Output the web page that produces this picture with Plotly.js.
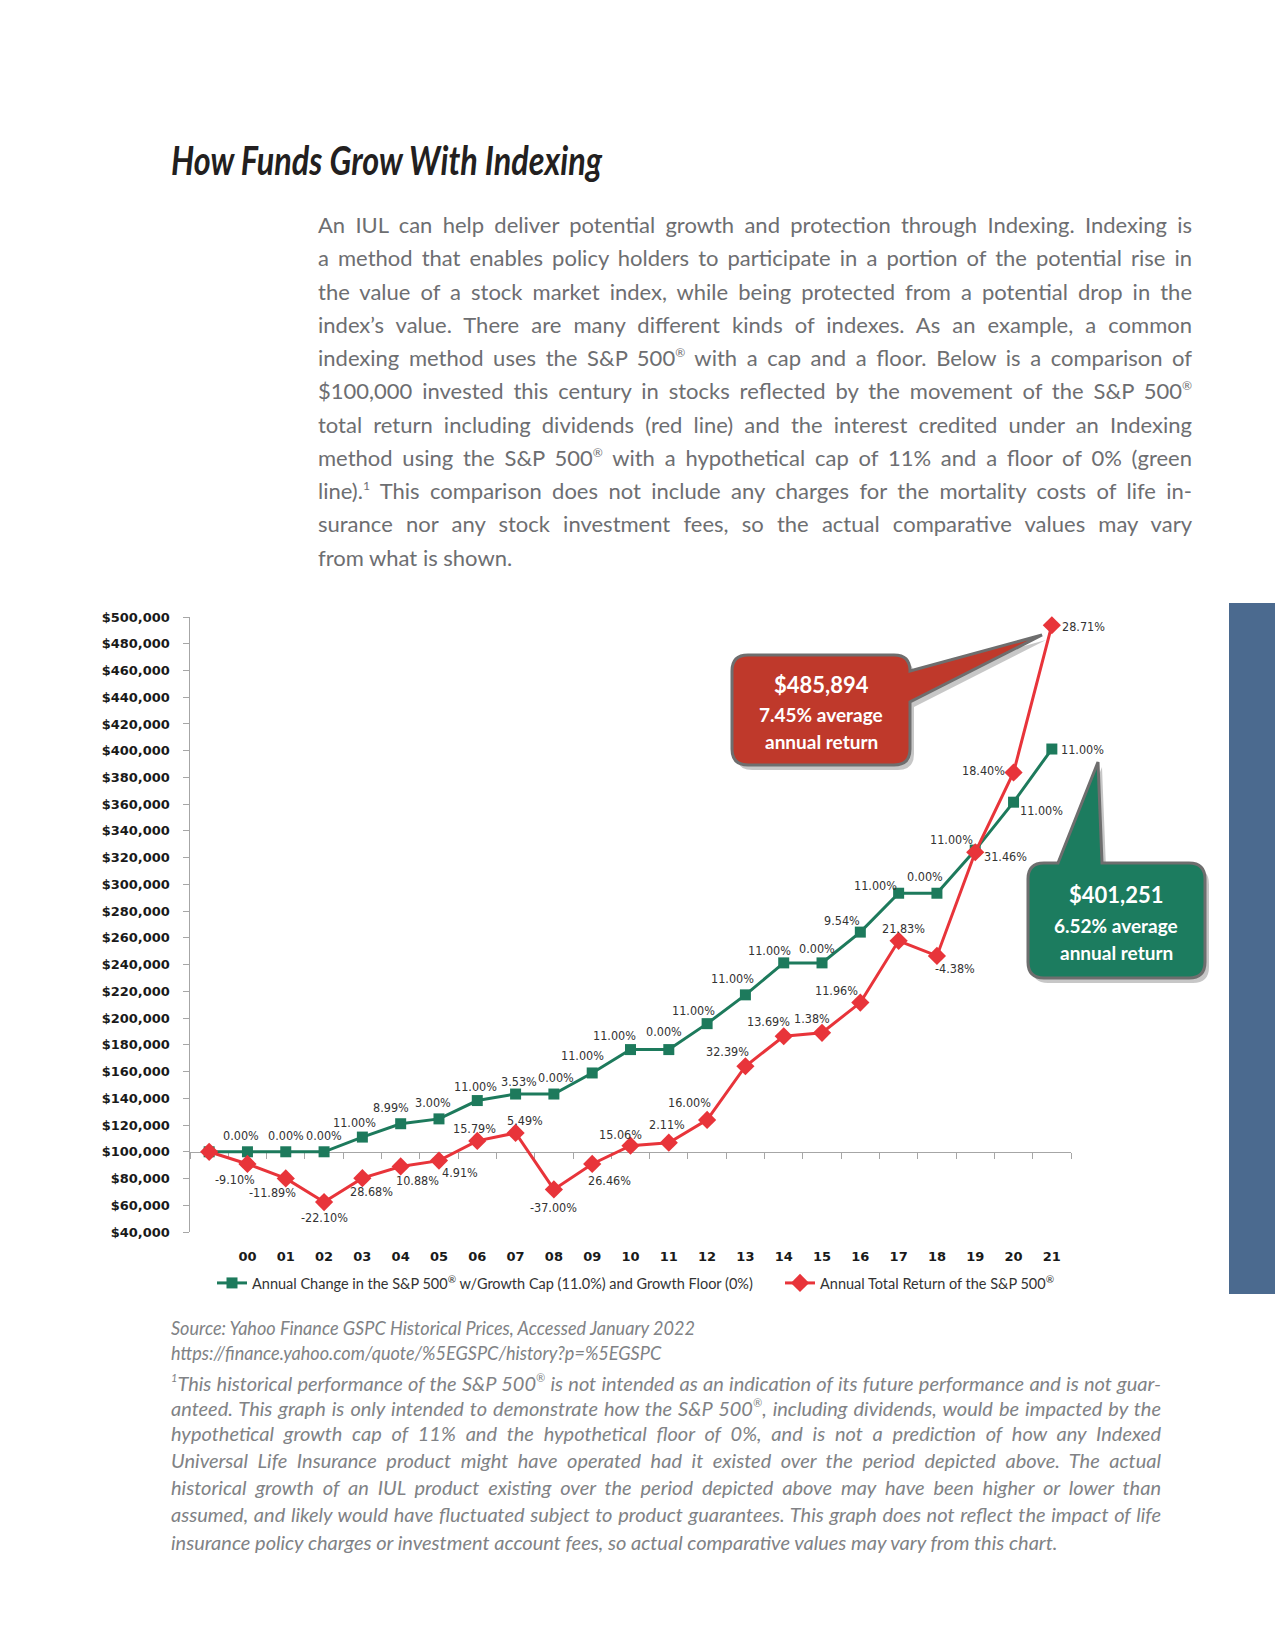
<!DOCTYPE html>
<html>
<head>
<meta charset="utf-8">
<script src="https://cdn.plot.ly/plotly-3.0.1.min.js"></script>
<style>
  html, body { margin: 0; padding: 0; background: #ffffff; }
  #page { position: relative; width: 1275px; height: 1650px; overflow: hidden; background: #fff; }
  #chart { position: absolute; left: 0; top: 0; width: 1275px; height: 1650px; }
  .block { position: absolute; top: 0; }
  .row { position: absolute; left: 0; text-align: justify; text-align-last: justify; transform-origin: 0 50%; overflow: visible; }
  .row.last { text-align: left; text-align-last: left; }
  .row .m { white-space: nowrap; }
  .row .sp { font-size: 0.55em; position: relative; top: -0.75em; }
  #heading { left: 171px; font-family: "Lato", "Open Sans", sans-serif; font-weight: 700; font-style: italic; color: #231f20; }
  #para { left: 318px; font-family: "Lato", "Open Sans", sans-serif; color: #6d6e71; }
  #source, #note { left: 171px; font-family: "Lato", "Open Sans", sans-serif; font-style: italic; color: #808285; }
  #sidebar { position: absolute; left: 1229px; top: 603px; width: 46px; height: 691px; background: #4b6a8f; }
</style>
</head>
<body>
<div id="page">
  <div id="chart"></div>
  <div id="sidebar"></div>
  <div id="heading" class="block"></div>
  <div id="para" class="block"></div>
  <div id="source" class="block"></div>
  <div id="note" class="block"></div>
</div>
<script>
// ---------------- DATA ----------------
// period ends: 1999 = starting value, then year ends 2000..2021
const periodEnd = [1999, 2000, 2001, 2002, 2003, 2004, 2005, 2006, 2007, 2008, 2009, 2010,
                   2011, 2012, 2013, 2014, 2015, 2016, 2017, 2018, 2019, 2020, 2021];
const labelYears = [2000, 2001, 2002, 2003, 2004, 2005, 2006, 2007, 2008, 2009, 2010,
                    2011, 2012, 2013, 2014, 2015, 2016, 2017, 2018, 2019, 2020, 2021];
const yearLabels = ['00','01','02','03','04','05','06','07','08','09','10',
                    '11','12','13','14','15','16','17','18','19','20','21'];

// Green: Annual Change in the S&P 500 w/Growth Cap (11.0%) and Growth Floor (0%)
const cappedValue = [100000, 100000, 100000, 100000, 111000, 120979, 124608, 138315, 143198,
                     143198, 158949, 176434, 176434, 195842, 217384, 241296, 241296, 264316,
                     293391, 293391, 325664, 361487, 401251];
const cappedChange = ['', '0.00%', '0.00%', '0.00%', '11.00%', '8.99%', '3.00%', '11.00%', '3.53%',
                      '0.00%', '11.00%', '11.00%', '0.00%', '11.00%', '11.00%', '11.00%', '0.00%',
                      '9.54%', '11.00%', '0.00%', '11.00%', '11.00%', '11.00%'];

// Red: Annual Total Return of the S&P 500
const spValue = [100000, 90900, 80092, 62392, 80286, 89021, 93392, 108138, 114075,
                 71867, 90883, 104570, 106777, 123861, 163980, 186429, 189001, 211606,
                 257799, 246508, 324059, 383686, 493842];
const spChange = ['', '-9.10%', '-11.89%', '-22.10%', '28.68%', '10.88%', '4.91%', '15.79%', '5.49%',
                  '-37.00%', '26.46%', '15.06%', '2.11%', '16.00%', '32.39%', '13.69%', '1.38%',
                  '11.96%', '21.83%', '-4.38%', '31.46%', '18.40%', '28.71%'];

const seriesNames = ['Annual Change in the S&P 500® w/Growth Cap (11.0%) and Growth Floor (0%)',
                     'Annual Total Return of the S&P 500®'];
const calloutRed = ['$485,894', '7.45% average', 'annual return'];
const calloutGreen = ['$401,251', '6.52% average', 'annual return'];

// ---------------- LABEL PLACEMENT (style, px offsets from the marker) ----------------
const capDx = [0, -6, 0, 0, -8, -10, -6, -2, 3, 2, -10, -16, -5, -14, -13, -14, -5, -18, -23, -12, -24, 28, 31];
const capDy = [0, 16, 16, 16, 15, 16, 16, 14, 13, 17, 17, 14, 18, 13, 16, 12, 14, 12, 8, 17, 11, -8, 0];
const spDx  = [0, -12, -13, 0, 9, 17, 21, -3, 9, 0, 17, -10, -2, -18, -18, -15, -10, -24, 5, 18, 30, -30, 32];
const spDy  = [0, -16, -14, -15, -13, -14, -12, 12, 12, -18, -17, 11, 18, 17, 15, 15, 14, 12, 12, -13, -4, 2, -1];

// ---------------- GEOMETRY ----------------
const W = 1275, H = 1650;
const L = 190, R = 1071, T = 617, B = 1232;
const px2x = p => (p - L) / (R - L);
const py2y = p => (B - p) / (B - T);
const P = (x, y) => px2x(x).toFixed(5) + ',' + py2y(y).toFixed(5);

const GREEN = '#1d7a5c';
const RED = '#e8343a';
const NARROW = '"DejaVu Sans Condensed", "Liberation Sans Narrow", "Arial Narrow", sans-serif';
const BOLDTICK = '"DejaVu Sans", Verdana, sans-serif';
const sup = s => s.replace(/®/g, '<sup>®</sup>');

const traces = [
  {
    type: 'scatter', mode: 'lines+markers', name: sup(seriesNames[0]),
    x: periodEnd, y: cappedValue, xaxis: 'x', yaxis: 'y', legend: 'legend',
    line: { color: GREEN, width: 3 },
    marker: { symbol: 'square', size: 11, color: GREEN },
    hoverinfo: 'skip', cliponaxis: false
  },
  {
    type: 'scatter', mode: 'lines+markers', name: sup(seriesNames[1]),
    x: periodEnd, y: spValue, xaxis: 'x2', yaxis: 'y', legend: 'legend2',
    line: { color: RED, width: 3 },
    marker: { symbol: 'diamond', size: 14, color: RED },
    hoverinfo: 'skip', cliponaxis: false
  }
];

const annotations = [];
function addLabels(xs, ys, texts, dx, dy) {
  for (let i = 0; i < xs.length; i++) {
    if (!texts[i]) continue;
    annotations.push({
      xref: 'x', yref: 'y', x: xs[i], y: ys[i], text: texts[i], showarrow: false,
      xanchor: 'center', yanchor: 'middle', xshift: dx[i], yshift: dy[i],
      font: { family: NARROW, size: 12.5, color: '#333333' }
    });
  }
}
addLabels(periodEnd, cappedValue, cappedChange, capDx, capDy);
addLabels(periodEnd, spValue, spChange, spDx, spDy);

function calloutText(lines, cx, ys) {
  lines.forEach((t, i) => {
    annotations.push({
      xref: 'paper', yref: 'paper', x: px2x(cx), y: py2y(ys[i]), text: t, showarrow: false,
      xanchor: 'center', yanchor: 'middle',
      font: { family: 'Lato, "Open Sans", sans-serif', size: i === 0 ? 22 : 19, color: '#ffffff', weight: 700 }
    });
  });
}
calloutText(calloutRed, 821, [684, 714, 741]);
calloutText(calloutGreen, 1116, [894, 925, 952]);

const redPath = (dx, dy) => {
  const p = (x, y) => P(x + dx, y + dy);
  return `M ${p(748,655)} L ${p(894,655)} Q ${p(910,655)} ${p(910,671)} L ${p(1042,635)} L ${p(910,702)} ` +
         `L ${p(910,749)} Q ${p(910,765)} ${p(894,765)} L ${p(748,765)} Q ${p(732,765)} ${p(732,749)} ` +
         `L ${p(732,671)} Q ${p(732,655)} ${p(748,655)} Z`;
};
const greenPath = (dx, dy) => {
  const p = (x, y) => P(x + dx, y + dy);
  return `M ${p(1044,863)} L ${p(1058,863)} L ${p(1098,762)} L ${p(1102,863)} L ${p(1189,863)} ` +
         `Q ${p(1205,863)} ${p(1205,879)} L ${p(1205,962)} Q ${p(1205,978)} ${p(1189,978)} ` +
         `L ${p(1044,978)} Q ${p(1028,978)} ${p(1028,962)} L ${p(1028,879)} Q ${p(1028,863)} ${p(1044,863)} Z`;
};
const shapes = [
  { type: 'path', xref: 'paper', yref: 'paper', path: redPath(4, 5), fillcolor: 'rgba(0,0,0,0.22)', line: { width: 0 }, layer: 'above' },
  { type: 'path', xref: 'paper', yref: 'paper', path: greenPath(4, 5), fillcolor: 'rgba(0,0,0,0.22)', line: { width: 0 }, layer: 'above' },
  { type: 'path', xref: 'paper', yref: 'paper', path: redPath(0, 0), fillcolor: '#bf392b', line: { color: '#6e6e6e', width: 3 }, layer: 'above' },
  { type: 'path', xref: 'paper', yref: 'paper', path: greenPath(0, 0), fillcolor: '#1c7c5f', line: { color: '#6e6e6e', width: 3 }, layer: 'above' }
];

const xRange = [periodEnd[0] - 0.5, periodEnd[periodEnd.length - 1] + 0.5];
const boundaries = periodEnd.map(v => v - 0.5).concat([periodEnd[periodEnd.length - 1] + 0.5]);
const yMin = 40000, yMax = 500000, baseValue = cappedValue[0];
const legendFont = { family: 'Lato, "Open Sans", sans-serif', size: 14.5, color: '#333333' };

const layout = {
  width: W, height: H,
  margin: { l: L, r: W - R, t: T, b: H - B, pad: 0 },
  paper_bgcolor: 'rgba(0,0,0,0)', plot_bgcolor: 'rgba(0,0,0,0)',
  showlegend: true,
  xaxis: {
    type: 'linear', range: xRange, fixedrange: true,
    tickmode: 'array', tickvals: labelYears, ticktext: yearLabels,
    ticks: 'outside', ticklen: 12, tickcolor: 'rgba(0,0,0,0)',
    showline: false, showgrid: false, zeroline: false,
    tickfont: { family: BOLDTICK, size: 13, color: '#1a1a1a', weight: 700 },
    layer: 'below traces'
  },
  xaxis2: {
    type: 'linear', range: xRange, fixedrange: true, overlaying: 'x',
    anchor: 'free', position: (baseValue - yMin) / (yMax - yMin), side: 'bottom',
    tickmode: 'array', tickvals: boundaries, showticklabels: false,
    ticks: 'outside', ticklen: 6, tickcolor: '#a6a6a6', tickwidth: 1,
    showline: true, linecolor: '#a6a6a6', linewidth: 1.5,
    showgrid: false, zeroline: false, layer: 'below traces'
  },
  yaxis: {
    range: [yMin, yMax], fixedrange: true, tick0: yMin, dtick: 20000,
    tickprefix: '$', tickformat: ',d',
    ticks: 'outside', ticklen: 6, tickcolor: '#a6a6a6', tickwidth: 1,
    showline: true, linecolor: '#a6a6a6', linewidth: 1.5,
    showgrid: false, zeroline: false, ticklabelstandoff: 10,
    tickfont: { family: BOLDTICK, size: 13, color: '#1a1a1a', weight: 700 },
    layer: 'below traces'
  },
  legend: {
    orientation: 'h', x: px2x(212), xanchor: 'left', y: py2y(1283), yanchor: 'middle',
    font: legendFont, itemwidth: 30, bgcolor: 'rgba(0,0,0,0)'
  },
  legend2: {
    orientation: 'h', x: px2x(780), xanchor: 'left', y: py2y(1283), yanchor: 'middle',
    font: legendFont, itemwidth: 30, bgcolor: 'rgba(0,0,0,0)'
  },
  annotations: annotations,
  shapes: shapes
};

Plotly.newPlot('chart', traces, layout, { staticPlot: true, displayModeBar: false }).then(gd => {
  // drop the empty placeholder text nodes Plotly leaves for unused titles
  gd.querySelectorAll('text').forEach(t => { if (!t.textContent.trim()) t.remove(); });
});

// ---------------- TEXT BLOCKS ----------------
const headingText = ['How Funds Grow With Indexing'];
const paraLines = [
  'An IUL can help deliver potential growth and protection through Indexing. Indexing is',
  'a method that enables policy holders to participate in a portion of the potential rise in',
  'the value of a stock market index, while being protected from a potential drop in the',
  'index’s value. There are many different kinds of indexes. As an example, a common',
  'indexing method uses the S&P 500® with a cap and a floor. Below is a comparison of',
  '$100,000 invested this century in stocks reflected by the movement of the S&P 500®',
  'total return including dividends (red line) and the interest credited under an Indexing',
  'method using the S&P 500® with a hypothetical cap of 11% and a floor of 0% (green',
  'line).¹ This comparison does not include any charges for the mortality costs of life in-',
  'surance nor any stock investment fees, so the actual comparative values may vary',
  'from what is shown.'
];
const sourceLines = [
  'Source: Yahoo Finance GSPC Historical Prices, Accessed January 2022',
  'https://finance.yahoo.com/quote/%5EGSPC/history?p=%5EGSPC'
];
const noteLines = [
  '¹This historical performance of the S&P 500® is not intended as an indication of its future performance and is not guar-',
  'anteed. This graph is only intended to demonstrate how the S&P 500®, including dividends, would be impacted by the',
  'hypothetical growth cap of 11% and the hypothetical floor of 0%, and is not a prediction of how any Indexed',
  'Universal Life Insurance product might have operated had it existed over the period depicted above. The actual',
  'historical growth of an IUL product existing over the period depicted above may have been higher or lower than',
  'assumed, and likely would have fluctuated subject to product guarantees. This graph does not reflect the impact of life',
  'insurance policy charges or investment account fees, so actual comparative values may vary from this chart.'
];

function esc(s) {
  return s.replace(/&/g, '&amp;').replace(/</g, '&lt;')
          .replace(/®/g, '<span class="sp">®</span>').replace(/¹/g, '<span class="sp">1</span>');
}
// cfg: centers, lineH, font, width (final visible width), fit: 'widest' | 'first', justify, lastLeft
function buildBlock(id, lines, cfg) {
  const host = document.getElementById(id);
  host.style.fontSize = cfg.font + 'px';
  const rows = [], spans = [];
  lines.forEach((t, i) => {
    const row = document.createElement('div');
    const isLeft = !cfg.justify || (cfg.lastLeft && i === lines.length - 1);
    row.className = 'row' + (isLeft ? ' last' : '');
    row.style.top = (cfg.centers[i] - cfg.lineH / 2) + 'px';
    row.style.height = cfg.lineH + 'px';
    row.style.lineHeight = cfg.lineH + 'px';
    row.innerHTML = '<span class="m">' + esc(t) + '</span>';
    host.appendChild(row);
    rows.push(row); spans.push(row.firstChild);
  });
  const widths = spans.map(s => s.getBoundingClientRect().width);
  let s;
  if (cfg.fit === 'first') s = cfg.width / widths[0];
  else s = Math.min(1, cfg.width * 0.99 / Math.max.apply(null, widths));
  rows.forEach(r => {
    r.style.width = (cfg.width / s) + 'px';
    r.style.transform = 'scaleX(' + s.toFixed(4) + ')';
  });
  spans.forEach(sp => { sp.style.whiteSpace = 'normal'; });
}
function run() {
  buildBlock('heading', headingText, { centers: [160], lineH: 50, font: 41, width: 431, fit: 'first', justify: false });
  buildBlock('para', paraLines, { centers: [225, 258.3, 291.5, 324.8, 358, 391.3, 424.6, 457.8, 491.1, 524.4, 557.6],
                                  lineH: 30, font: 22, width: 874, fit: 'widest', justify: true, lastLeft: true });
  buildBlock('source', sourceLines, { centers: [1327, 1352.5], lineH: 21, font: 20, width: 524, fit: 'first', justify: false });
  buildBlock('note', noteLines, { centers: [1383, 1408, 1433.5, 1460, 1487.3, 1514.6, 1542],
                                  lineH: 19, font: 20, width: 990, fit: 'widest', justify: true, lastLeft: true });
}
if (document.fonts && document.fonts.ready) { document.fonts.ready.then(run); } else { run(); }
</script>
</body>
</html>
